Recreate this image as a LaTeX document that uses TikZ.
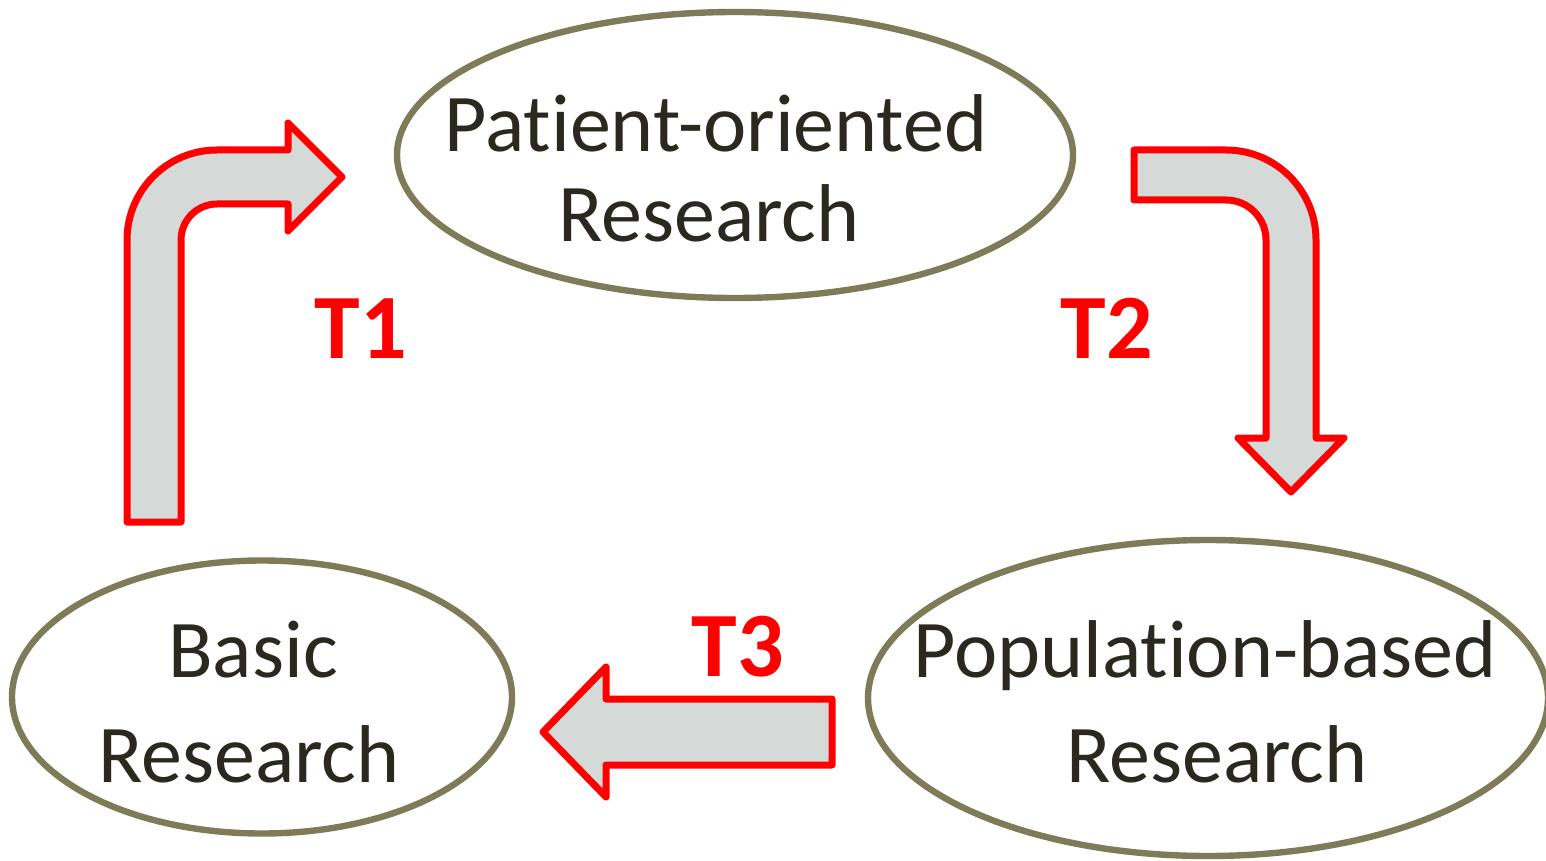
\documentclass[tikz,border=0pt]{standalone}
\usepackage{fontspec}
\setmainfont[Ligatures={NoCommon}]{Carlito}
\usetikzlibrary{shapes.geometric}
\definecolor{ellcol}{HTML}{7E7B59}
\definecolor{txtcol}{HTML}{2B2820}
\definecolor{arrfill}{HTML}{D5D9D8}
\definecolor{arrred}{HTML}{FF0000}
\tikzset{
  ell/.style={ellipse, draw=ellcol, line width=3.2pt, inner sep=0pt},
  lbl/.style={anchor=base, inner sep=0pt, text=txtcol, font=\fontsize{41}{49}\selectfont},
  tlbl/.style={anchor=base, inner sep=0pt, text=arrred, font=\fontsize{46}{54}\selectfont\bfseries},
  blockarrow/.style={draw=arrred, fill=arrfill, line width=3.5pt, line join=round}
}
\begin{document}
\begin{tikzpicture}[x=0.5pt,y=-0.5pt]
\useasboundingbox (0,0) rectangle (1546,861);
% ellipses
\node[ell, minimum width=338pt, minimum height=143pt] (pat) at (735,155) {};
\node[ell, minimum width=250pt, minimum height=136.5pt] (bas) at (262,697) {};
\node[ell, minimum width=340pt, minimum height=158pt] (pop) at (1208,698) {};
% texts
\node[lbl] (pat1) at (716,152) {Patient-oriented};
\node[lbl] (pat2) at (709,242) {Research};
\node[lbl] (bas1) at (253,677) {Basic};
\node[lbl] (bas2) at (249,782) {Research};
\node[lbl] (pop1) at (1205,677) {Population-based};
\node[lbl] (pop2) at (1217,782) {Research};
% block arrows
\draw[blockarrow] (127,522) -- (127,240) .. controls (127,190.3) and (167.3,150) .. (217,150)
  -- (288,150) -- (288,123) -- (342,177) -- (288,231) -- (288,204) -- (217,204)
  .. controls (197.1,204) and (181,220.1) .. (181,240) -- (181,522) -- cycle;
\draw[blockarrow] (1134,150) -- (1226,150) .. controls (1275.7,150) and (1316,190.3) .. (1316,240)
  -- (1316,438) -- (1344,438) -- (1291,492) -- (1238,438) -- (1266,438) -- (1266,240)
  .. controls (1266,217.9) and (1248.1,200) .. (1226,200) -- (1134,200) -- cycle;
\draw[blockarrow] (832,699) -- (606,699) -- (606,667) -- (543,732) -- (606,797) -- (606,765) -- (832,765) -- cycle;
% labels
\node[tlbl] (t1) at (361,358) {T1};
\node[tlbl] (t2) at (1107,358) {T2};
\node[tlbl] (t3) at (738,676) {T3};
\end{tikzpicture}
\end{document}
